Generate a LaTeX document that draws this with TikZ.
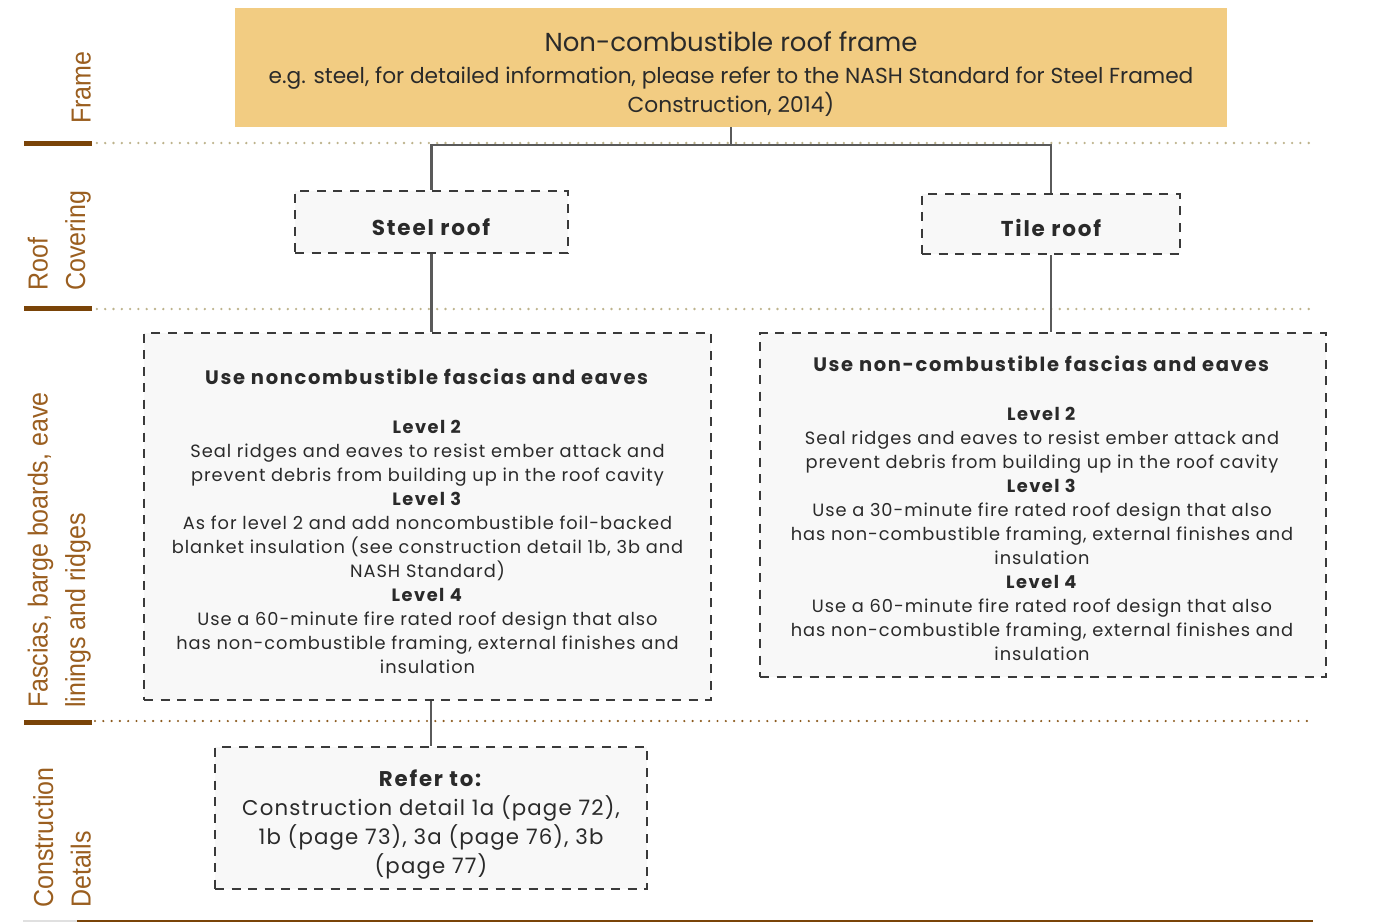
\documentclass[tikz,border=0pt]{standalone}
\usepackage{fontspec}
\setmainfont{Poppins}[LetterSpace=5.4, BoldFeatures={LetterSpace=8.5}]
\newfontfamily\titlefont{Poppins}
\newfontfamily\labelfont{Liberation Sans}
\definecolor{framefill}{HTML}{F2CC82}
\definecolor{boxfill}{HTML}{F8F8F8}
\definecolor{boxline}{HTML}{3A3A3A}
\definecolor{linkgray}{HTML}{5A5A5A}
\definecolor{inktext}{HTML}{2A2A2A}
\definecolor{labelbrown}{HTML}{9A5E1F}
\definecolor{barbrown}{HTML}{7A4408}
\definecolor{dotbeige}{HTML}{BDB38C}
\definecolor{dotbrown}{HTML}{8B5A1E}
\newcommand{\bodysize}{\fontsize{17.8}{24}\selectfont}
\newcommand{\headsize}{\fontsize{19.5}{24}\selectfont\bfseries}
\begin{document}
\begin{tikzpicture}[x=1pt,y=-1pt,
  dashbox/.style={draw=boxline, line width=2.4pt, dash pattern=on 9pt off 7.5pt,
    fill=boxfill, rectangle, inner sep=0pt},
  bodytext/.style={text=inktext, align=center, inner sep=0pt, font=\bodysize},
  link/.style={draw=linkgray, line width=2.4pt},
  rowlabel/.style={text=labelbrown, xscale=1.1, rotate=90, anchor=south west, align=left,
    inner sep=0pt, font=\labelfont\fontsize{25}{34}\selectfont},
  bar/.style={draw=barbrown, line width=5pt},
  beigedots/.style={draw=dotbeige, line width=2.6pt, line cap=round, dash pattern=on 0pt off 8.3pt},
  browndots/.style={draw=dotbrown, line width=2.4pt, line cap=round, dash pattern=on 0pt off 8.3pt}]
\useasboundingbox (0,0) rectangle (1376,922);

% row separators
\coordinate (r1a) at (72,143);  \coordinate (r1b) at (1310,143);
\coordinate (r2a) at (72,309);  \coordinate (r2b) at (1310,309);
\coordinate (r3a) at (95,721);  \coordinate (r3b) at (1310,721);
\draw[beigedots] (r1a) -- (r1b);
\draw[beigedots] (r2a) -- (r2b);
\draw[browndots] (r3a) -- (r3b);
\coordinate (b1a) at (24,143); \coordinate (b1b) at (92,143);
\coordinate (b2a) at (24,308); \coordinate (b2b) at (92,308);
\coordinate (b3a) at (24,722); \coordinate (b3b) at (92,722);
\draw[bar] (b1a) -- (b1b);
\draw[bar] (b2a) -- (b2b);
\draw[bar] (b3a) -- (b3b);
\coordinate (base0) at (23,921); \coordinate (base1) at (77,921); \coordinate (base2) at (1313,921);
\draw[draw=black!12, line width=1.5pt] (base0) -- (base1);
\draw[draw=barbrown, line width=1.5pt] (base1) -- (base2);

% row labels
\coordinate (pframe) at (91,124);
\coordinate (pcover) at (91,291);
\coordinate (pfascia) at (91,708);
\coordinate (pdetail) at (91,908);
\node[rowlabel] (lframe) at (pframe) {Frame};
\node[rowlabel] (lcover) at (pcover) {Roof\\Covering};
\node[rowlabel] (lfascia) at (pfascia) {Fascias, barge boards, eave\\linings and ridges};
\node[rowlabel] (ldetail) at (pdetail) {Construction\\Details};

% roof frame
\node[fill=framefill, minimum width=992pt, minimum height=119pt, inner sep=0pt] (frame) at (731,67.5) {};
\node[text=inktext, inner sep=0pt, font=\titlefont\fontsize{26}{30}\selectfont] (frametitle) at (731,42)
  {Non-combustible roof frame};
\node[text=inktext, align=center, inner sep=0pt, font=\titlefont\fontsize{21.7}{29}\selectfont] (framesub) at (731,92)
  {e.g. steel, for detailed information, please refer to the NASH Standard for Steel Framed\\
   Construction, 2014)};

% roof coverings
\node[dashbox, minimum width=273pt, minimum height=62pt] (steel) at (431.5,222) {};
\node[bodytext, font=\fontsize{21.5}{24}\selectfont\bfseries] (steeltxt) at (431,227) {Steel roof};
\node[dashbox, minimum width=258pt, minimum height=60pt] (tile) at (1051,224) {};
\node[bodytext, font=\fontsize{21.5}{24}\selectfont\bfseries] (tiletxt) at (1051,228) {Tile roof};

% fascia requirements
\node[dashbox, minimum width=567pt, minimum height=367pt] (steelreq) at (427.5,516.5) {};
\node[bodytext, anchor=north] (steelreqtxt) at (427.5,369)
  {\textbf{\headsize Use noncombustible fascias and eaves}\\[25pt]
   \textbf{Level 2}\\
   Seal ridges and eaves to resist ember attack and\\
   prevent debris from building up in the roof cavity\\
   \textbf{Level 3}\\
   As for level 2 and add noncombustible foil-backed\\
   blanket insulation (see construction detail 1b, 3b and\\
   NASH Standard)\\
   \textbf{Level 4}\\
   Use a 60-minute fire rated roof design that also\\
   has non-combustible framing, external finishes and\\
   insulation};
\node[dashbox, minimum width=566pt, minimum height=344pt] (tilereq) at (1043,505) {};
\node[bodytext, anchor=north] (tilereqtxt) at (1042,356)
  {\textbf{\headsize Use non-combustible fascias and eaves}\\[25pt]
   \textbf{Level 2}\\
   Seal ridges and eaves to resist ember attack and\\
   prevent debris from building up in the roof cavity\\
   \textbf{Level 3}\\
   Use a 30-minute fire rated roof design that also\\
   has non-combustible framing, external finishes and\\
   insulation\\
   \textbf{Level 4}\\
   Use a 60-minute fire rated roof design that also\\
   has non-combustible framing, external finishes and\\
   insulation};

% construction details
\node[dashbox, minimum width=432pt, minimum height=142pt] (detail) at (431,818) {};
\node[bodytext, font=\fontsize{21.3}{29}\selectfont] (detailtxt) at (431,825)
  {\textbf{Refer to:}\\
   Construction detail 1a (page 72),\\
   1b (page 73), 3a (page 76), 3b\\
   (page 77)};

% connectors
\coordinate (split) at (731,145);
\draw[link] (frame.south) -- (split);
\draw[link] (steel.north) |- (split) -| (tile.north);
\draw[link] (steel.south) -- (steelreq.north -| steel.south);
\draw[link] (tile.south) -- (tilereq.north -| tile.south);
\draw[link] (steelreq.south -| detail.north) -- (detail.north);
\end{tikzpicture}
\end{document}
